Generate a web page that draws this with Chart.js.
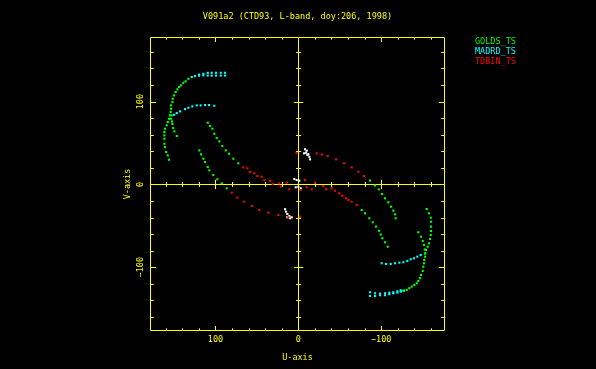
<!DOCTYPE html>
<html lang="en">
<head>
<meta charset="UTF-8">
<title>V091a2 uv coverage</title>
<script src="https://cdn.jsdelivr.net/npm/chart.js"></script>
<style>
  html, body { margin: 0; padding: 0; background: #000; }
  #wrap { width: 596px; height: 369px; background: #000; }
  canvas { display: block; }
</style>
</head>
<body>
<div id="wrap"><canvas id="uv" width="596" height="369"></canvas></div>
<script>
  // tick labels (U axis runs right to left)
  const tickValues = [100, 0, -100];
  const tickLabels = ['100', '0', '\u2212100'];

  // GOLDS_TS baselines [u, v]
  const goldsOuterUL = [[132.7,127.5],[135.9,124.4],[138.8,122.7],[141.5,119.6],[144,117.5],[146,114.8],[148,111.5],[150,107.5],[151.6,103.4],[152,99.4],[153.6,95.4],[153.6,91.4],[154,87.4],[154.8,83.4],[156,79.3],[157.6,75.3],[158.8,71.3],[160.9,67.2],[161.7,63.2],[161.7,59.2],[161.7,55.1],[161.7,49.1],[160.9,45.1],[159.6,39.1],[157.6,35.1],[156,29.8]];
  const goldsInnerUL = [[152.8,83.4],[153.6,79.3],[152.4,76],[152,73],[151,68],[149.6,64],[146.7,58.4]];
  const goldsMidUL = [[109.3,74.5],[106.5,70.5],[103.8,67.3],[101.4,61.2],[98.5,56],[95.3,52],[91.7,46.3],[87.6,41.1],[83.6,37],[78.4,31],[72.4,25.5]];
  const goldsLowUL = [[119.5,41.1],[117.4,36.3],[114.6,31],[112.6,27],[109.3,21],[107.4,17],[102.6,11.3],[97.7,6.2],[92.4,1.3],[86.4,-4.7]];
  const goldsOuterLR = [[-154.9,-29.7],[-157.7,-34.9],[-159.8,-40.2],[-160.1,-45],[-160.1,-51],[-160.1,-56.2],[-159.8,-61.1],[-158.9,-65.9],[-157.7,-71.1],[-156.1,-75.2],[-154.1,-79.2],[-153.3,-83.2],[-152.9,-87.2],[-152,-91.2],[-151.7,-95.2],[-150.8,-99.3],[-150.1,-104.5],[-148.1,-109.3],[-146.9,-113.3],[-144.8,-116.6],[-142.9,-119.3],[-140,-121.4],[-136.8,-123.4],[-133.9,-125.4],[-130.8,-127.4],[-126.7,-128.3]];
  const goldsInnerLR = [[-144.8,-57.8],[-148.1,-63.1],[-150.1,-68.3],[-151.7,-73.1],[-152.5,-78.5],[-152.8,-83.4]];
  const goldsMidLR = [[-76.5,-30.9],[-80.5,-34.9],[-85.7,-40.9],[-89.8,-45.7],[-93.8,-51],[-97.4,-55.9],[-99.5,-60.5],[-101.4,-65],[-104.6,-69.9],[-107.9,-75.2]];
  const goldsLowLR = [[-86.4,4.7],[-92.4,-1.3],[-97,-6],[-101,-11.6],[-104.6,-16.8],[-108.6,-21.6],[-111.9,-26.9],[-114.7,-31.7],[-116.7,-36.1],[-117.5,-40.9]];

  // MADRD_TS baselines [u, v]
  const madrdOuterUL = [[128.6,129.6],[124.7,130.8],[119.8,131.4],[114.6,131.7],[109.3,131.4],[104.5,131.4],[99.3,131.4],[93.6,131.4],[88.5,131.4],
                        [119.8,132.6],[114.6,133.6],[109.3,134.7],[104.5,134.8],[99.3,134.8],[93.6,134.8],[88.5,134.8]];
  const madrdInnerUL = [[150,84.1],[146.7,86.2],[142.7,88.2],[136.7,91],[132.7,92.6],[127.9,94.2],[122.6,95.4],[117.8,95.4],[112.6,95.8],[107.8,95.8],[101.4,95]];
  const madrdInnerLR = [[-100.6,-95.2],[-105.8,-96.1],[-111.5,-96.1],[-116.7,-95.2],[-121.9,-94.5],[-126.7,-94],[-131.5,-92.4],[-135.6,-90.4],[-139.6,-89.2],[-143.6,-87.2],[-147.7,-85.2]];
  const madrdOuterLR = [[-86.5,-134.7],[-92.6,-134.7],[-98.6,-133.8],[-104.6,-133.8],[-109.8,-132.6],[-114.6,-131.5],[-119.5,-130.7],[-123.6,-129.5],[-127.5,-128.3],
                        [-86.5,-130.2],[-92.6,-131.4],[-98.6,-131.9],[-104.6,-131.4],[-109.8,-130.7],[-114.6,-130.3],[-119.5,-129],[-123.6,-127.8]];

  // TDBIN_TS baselines [u, v]
  const tdbinCenter = [[66.4,20.6],[61.5,19.4],[58.3,15.3],[53.1,13.4],[49.5,10.1],[44.2,9.3],[41,5.3],[34.1,4.5],[30.9,0.5],[23.3,1.3],[21.2,-2.8],[14,2.1],[10.9,-5.9],
                       [-2.1,-6.8],[-8.1,5.3],[-10.1,-3.5],[-16.2,-5.9],[-20.2,2.1],[-30.2,-1.9],[-33.4,-5.9],[-40.3,-4.7],[-44.3,-7.6],[-49.5,-10.7],[-53.1,-13.6],[-57.6,-16.8],[-60.3,-18.8],[-64.4,-20.9],[-70.5,-24.9]];
  const tdbinUR = [[2.2,38.1],[-22.2,37.5],[-28.5,36],[-35.5,34.3],[-45.5,30.3],[-55.1,25.5],[-64.4,20.6],[-72.4,15.3],[-79.3,10.1]];
  const tdbinLL = [[-2,-39],[12.1,-39.7],[24.1,-36.9],[36.2,-34.1],[47.1,-30.9],[56.2,-26],[65.5,-20.9],[73.6,-16],[80.4,-10]];

  // short baselines near the origin (no legend entry)
  const shortPts = [[-8.1,42.4],[-10.1,40.7],[-9.3,38.3],[-6.9,37.5],[-12.1,36.7],[-10.9,35.5],[-13.3,33.4],[-14.1,30.3],
                    [16,-30],[14.8,-32.9],[13.3,-35.7],[10.9,-38.1],[10,-40.9],[13.3,-39.7],[8,-39.7],
                    [4.8,6.5],[2,5.3],[-1.2,4.5],[3.1,-3.5],[0,-2.8],[-2.9,-4.7]];

  const yellow = '#ffff00';
  const fontFamily = "'DejaVu Sans Mono', monospace";
  const toXY = arr => arr.map(p => ({ x: p[0], y: p[1] }));
  const tickLabel = v => tickLabels[tickValues.indexOf(v)];

  Chart.defaults.font.family = fontFamily;
  Chart.defaults.font.size = 8.5;
  Chart.defaults.color = yellow;

  // frame, zero cross and inward ticks
  const framePlugin = {
    id: 'frame',
    beforeDatasetsDraw(chart) {
      const { ctx, chartArea: a, scales: { x, y } } = chart;
      const px = v => Math.round(x.getPixelForValue(v)) + 0.5;
      const py = v => Math.round(y.getPixelForValue(v)) + 0.5;
      const L = Math.round(a.left) + 0.5, R = Math.round(a.right) - 0.5;
      const T = Math.round(a.top) + 0.5, B = Math.round(a.bottom) - 0.5;
      const x0 = px(0), y0 = py(0);
      ctx.save();
      ctx.strokeStyle = yellow;
      ctx.lineWidth = 1;
      ctx.beginPath();
      ctx.rect(L, T, R - L, B - T);
      ctx.moveTo(L, y0); ctx.lineTo(R, y0);
      ctx.moveTo(x0, T); ctx.lineTo(x0, B);
      for (let v = -160; v <= 160; v += 20) {
        if (v === 0) continue;
        const major = v % 100 === 0;
        const h = major ? 4.5 : 2.2;
        const w = major ? 5.7 : 3.3;
        const c = major ? 4.7 : 2.5;
        const xx = px(v), yy = py(v);
        ctx.moveTo(xx, T); ctx.lineTo(xx, T + h);
        ctx.moveTo(xx, B); ctx.lineTo(xx, B - h);
        ctx.moveTo(xx, y0 - c); ctx.lineTo(xx, y0 + c);
        ctx.moveTo(L, yy); ctx.lineTo(L + w, yy);
        ctx.moveTo(R, yy); ctx.lineTo(R - w, yy);
        ctx.moveTo(x0 - c, yy); ctx.lineTo(x0 + c, yy);
      }
      ctx.stroke();
      ctx.restore();
    }
  };

  // station legend as plain coloured text at the upper right
  const legendPlugin = {
    id: 'legendText',
    afterDraw(chart) {
      const ctx = chart.ctx;
      ctx.save();
      ctx.font = '8.5px ' + fontFamily;
      ctx.textBaseline = 'middle';
      ctx.textAlign = 'left';
      let yy = 42;
      chart.data.datasets.forEach(ds => {
        if (!ds.label) return;
        ctx.fillStyle = ds.backgroundColor;
        ctx.fillText(ds.label, 475, yy);
        yy += 10;
      });
      ctx.restore();
    }
  };

  const pointOpts = { pointStyle: 'rect', pointRadius: 1.5, pointBorderWidth: 0, showLine: false };

  new Chart(document.getElementById('uv'), {
    type: 'scatter',
    data: {
      datasets: [
        { label: 'GOLDS_TS', data: toXY([].concat(goldsOuterUL, goldsInnerUL, goldsMidUL, goldsLowUL, goldsOuterLR, goldsInnerLR, goldsMidLR, goldsLowLR)),
          backgroundColor: '#00ff00', borderColor: '#00ff00', ...pointOpts },
        { label: 'MADRD_TS', data: toXY([].concat(madrdOuterUL, madrdInnerUL, madrdInnerLR, madrdOuterLR)),
          backgroundColor: '#00ffff', borderColor: '#00ffff', ...pointOpts },
        { label: 'TDBIN_TS', data: toXY([].concat(tdbinCenter, tdbinUR, tdbinLL)),
          backgroundColor: '#ff0000', borderColor: '#ff0000', ...pointOpts },
        { label: '', data: toXY(shortPts),
          backgroundColor: '#ffffff', borderColor: '#ffffff', ...pointOpts }
      ]
    },
    options: {
      responsive: false,
      animation: false,
      devicePixelRatio: 1,
      layout: { padding: { left: 0, right: 151, top: 0, bottom: 0 } },
      plugins: {
        legend: { display: false },
        tooltip: { enabled: false },
        title: {
          display: true,
          fullSize: false,
          text: 'V091a2 (CTD93, L-band, doy:206, 1998)',
          color: yellow,
          font: { size: 8.5, weight: 'normal' },
          padding: { top: 11.6, bottom: 15.2 }
        }
      },
      scales: {
        x: {
          type: 'linear',
          position: 'bottom',
          reverse: true,
          min: -177,
          max: 179,
          afterBuildTicks: s => { s.ticks = tickValues.map(v => ({ value: v })); },
          afterFit: s => { s.height = 38; },
          ticks: { color: yellow, padding: 3.6, callback: v => tickLabel(v) },
          grid: { display: false, drawTicks: false },
          border: { display: false },
          title: { display: true, text: 'U-axis', color: yellow, padding: { top: 0, bottom: 5.9 } }
        },
        y: {
          type: 'linear',
          position: 'left',
          min: -177,
          max: 178,
          afterBuildTicks: s => { s.ticks = tickValues.map(v => ({ value: v })); },
          afterFit: s => { s.width = 150; },
          ticks: { color: yellow, padding: -1.4, minRotation: 90, maxRotation: 90, crossAlign: 'center', callback: v => tickLabel(v) },
          grid: { display: false, drawTicks: false },
          border: { display: false },
          title: { display: true, text: 'V-axis', color: yellow, padding: { top: 122.9, bottom: 0 } }
        }
      }
    },
    plugins: [framePlugin, legendPlugin]
  });
</script>
</body>
</html>
